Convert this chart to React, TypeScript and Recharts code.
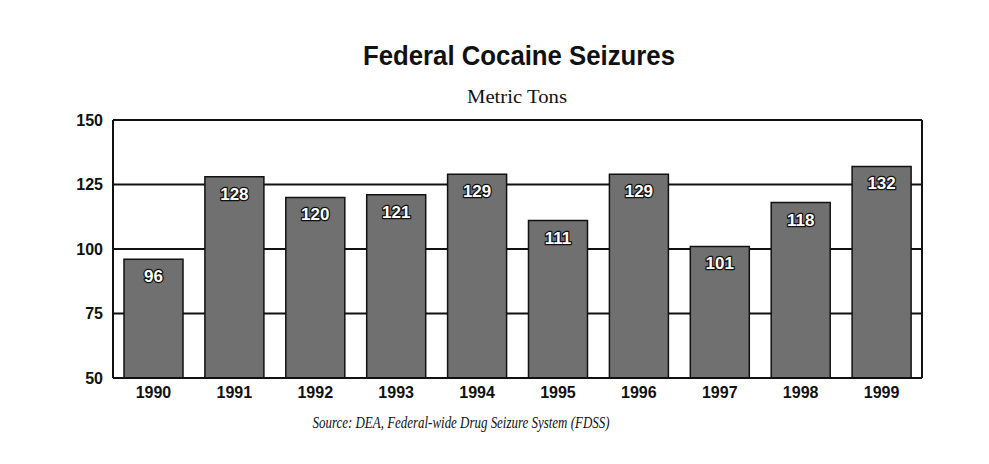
import React from 'react';
import { BarChart, Bar, XAxis, YAxis, CartesianGrid, LabelList } from 'recharts';

const years = ['1990', '1991', '1992', '1993', '1994', '1995', '1996', '1997', '1998', '1999'];
const seizures = [96, 128, 120, 121, 129, 111, 129, 101, 118, 132];
const yTicks = [50, 75, 100, 125, 150];

const data = years.map((y, i) => ({ year: y, value: seizures[i] }));

const W = 989;
const H = 464;

const renderLabel = (props: any) => {
  const { x, y, width, value } = props;
  const cx = Number(x) + Number(width) / 2;
  return (
    <text
      x={cx}
      y={Number(y) + 23}
      textAnchor="middle"
      fontFamily="'Liberation Sans', Arial, sans-serif"
      fontWeight="bold"
      fontSize={17}
      fill="#ffffff"
      stroke="#111111"
      strokeWidth={2.5}
      paintOrder="stroke"
      strokeLinejoin="round"
    >
      {value}
    </text>
  );
};

export default function App() {
  return (
    <div style={{ position: 'absolute', left: 0, top: 0, width: W, height: H, background: '#ffffff' }}>
      <BarChart
        width={W}
        height={H}
        data={data}
        margin={{ top: 120, right: 66, bottom: 56, left: 0 }}
      >
        <CartesianGrid yAxisId="left" vertical={false} stroke="#111111" strokeWidth={2} />
        <XAxis
          dataKey="year"
          height={30}
          axisLine={{ stroke: '#111111', strokeWidth: 2 }}
          tickLine={false}
          tickSize={0}
          tickMargin={9}
          tick={{ fill: '#111111', fontFamily: "'Liberation Sans', Arial, sans-serif", fontWeight: 'bold', fontSize: 16 }}
          interval={0}
        />
        <YAxis
          yAxisId="left"
          width={113}
          domain={[50, 150]}
          ticks={yTicks}
          axisLine={{ stroke: '#111111', strokeWidth: 2 }}
          tickLine={false}
          tickSize={0}
          tickMargin={10}
          tick={{ fill: '#111111', fontFamily: "'Liberation Sans', Arial, sans-serif", fontWeight: 'bold', fontSize: 16 }}
        />
        <YAxis
          yAxisId="right"
          orientation="right"
          width={1}
          domain={[50, 150]}
          ticks={yTicks}
          axisLine={{ stroke: '#111111', strokeWidth: 2 }}
          tickLine={false}
          tick={false}
        />
        <Bar
          yAxisId="left"
          dataKey="value"
          fill="#707070"
          stroke="#111111"
          strokeWidth={1.5}
          barSize={59}
          isAnimationActive={false}
        >
          <LabelList dataKey="value" content={renderLabel} />
        </Bar>
      </BarChart>
      <svg
        width={W}
        height={H}
        style={{ position: 'absolute', left: 0, top: 0, pointerEvents: 'none' }}
      >
        <text
          x={519}
          y={65}
          textAnchor="middle"
          fontFamily="'Liberation Sans', Arial, sans-serif"
          fontWeight="bold"
          fontSize={27}
          textLength={312}
          lengthAdjust="spacingAndGlyphs"
          fill="#111111"
        >
          Federal Cocaine Seizures
        </text>
        <text
          x={517}
          y={103}
          textAnchor="middle"
          fontFamily="'Liberation Serif', 'Times New Roman', serif"
          fontSize={19}
          textLength={100}
          lengthAdjust="spacingAndGlyphs"
          fill="#111111"
        >
          Metric Tons
        </text>
        <text
          x={461}
          y={428}
          textAnchor="middle"
          fontFamily="'Liberation Serif', 'Times New Roman', serif"
          fontStyle="italic"
          fontSize={17}
          textLength={297}
          lengthAdjust="spacingAndGlyphs"
          fill="#111111"
        >
          Source: DEA, Federal-wide Drug Seizure System (FDSS)
        </text>
      </svg>
    </div>
  );
}
